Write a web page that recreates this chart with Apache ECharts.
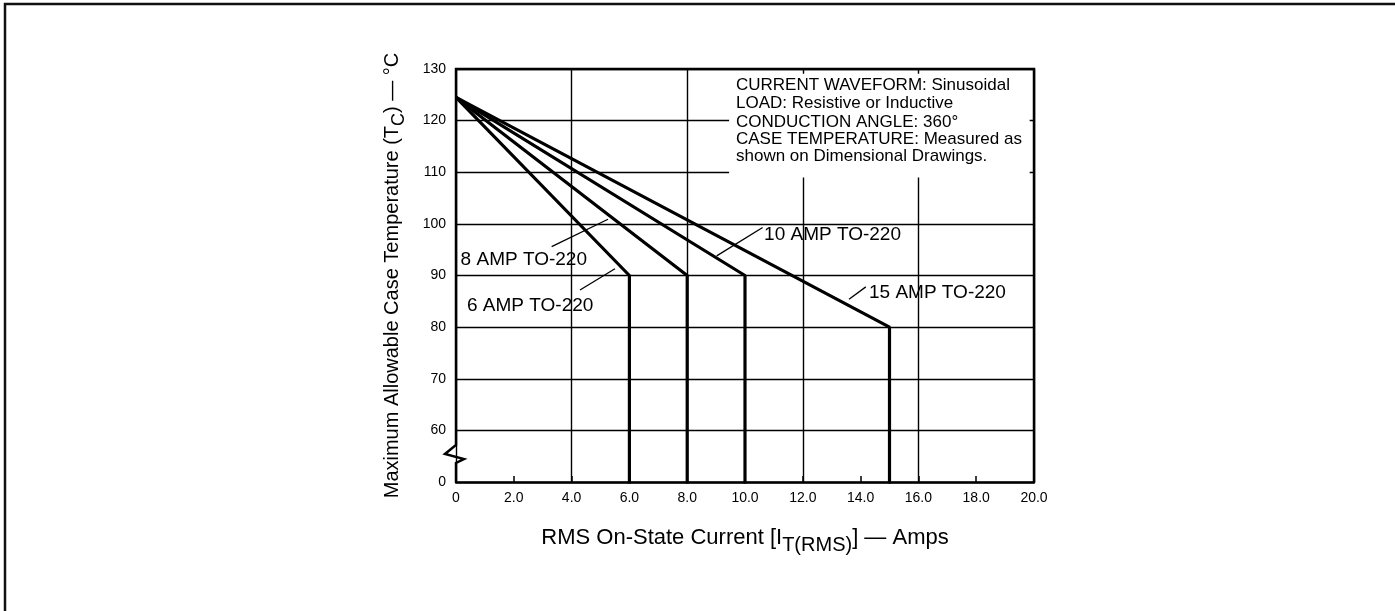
<!DOCTYPE html>
<html><head><meta charset="utf-8">
<script src="https://cdn.jsdelivr.net/npm/echarts@6/dist/echarts.min.js"></script>
<style>html,body{margin:0;padding:0;background:#fff}#c{width:1395px;height:611px}</style>
</head><body><div id="c"></div>
<script>
const FONT = '"Liberation Sans", Arial, Helvetica, sans-serif';

// ---- data (current in amps, case temperature in degC) ----
const seriesNames = ['6 AMP TO-220', '8 AMP TO-220', '10 AMP TO-220', '15 AMP TO-220'];
const amp6X  = [0, 6.0, 6.0];
const amp6Y  = [124.5, 90, 0];
const amp8X  = [0, 8.0, 8.0];
const amp8Y  = [124.5, 90, 0];
const amp10X = [0, 10.0, 10.0];
const amp10Y = [124.5, 90, 0];
const amp15X = [0, 15.0, 15.0];
const amp15Y = [124.5, 80, 0];

// axis: y axis is broken below 60 (bottom tick reads "0")
const xTickValues = [0, 2, 4, 6, 8, 10, 12, 14, 16, 18, 20];
const yTickValues = [50, 60, 70, 80, 90, 100, 110, 120, 130];
const yTickLabels = ['0', '60', '70', '80', '90', '100', '110', '120', '130'];

const noteLines = [
  'CURRENT WAVEFORM: Sinusoidal',
  'LOAD: Resistive or Inductive',
  'CONDUCTION ANGLE: 360°',
  'CASE TEMPERATURE: Measured as',
  'shown on Dimensional Drawings.'
];

// label placements in data units
const labelSpecs = [
  {text: seriesNames[1], at: [0.16, 93.0], leader: [[3.31, 95.6], [5.26, 100.9]]},
  {text: seriesNames[0], at: [0.38, 84.1], leader: [[4.29, 87.2], [5.50, 91.3]]},
  {text: seriesNames[2], at: [10.66, 97.8], leader: [[9.02, 93.8], [10.61, 99.3]]},
  {text: seriesNames[3], at: [14.29, 86.7], leader: [[13.60, 85.4], [14.18, 87.8]]}
];

const zip = (xs, ys) => xs.map((x, i) => [x, ys[i]]);
const seriesData = [zip(amp6X, amp6Y), zip(amp8X, amp8Y), zip(amp10X, amp10Y), zip(amp15X, amp15Y)];

const chart = echarts.init(document.getElementById('c'), null, {renderer: 'canvas'});

chart.setOption({
  animation: false,
  backgroundColor: '#fff',
  textStyle: {fontFamily: FONT, color: '#000'},
  grid: {left: 456, right: 361, top: 69, bottom: 129, containLabel: false},
  xAxis: [{
    type: 'value', min: 0, max: 20, interval: 2, position: 'bottom',
    axisLine: {show: true, lineStyle: {color: '#000', width: 2.5}},
    axisTick: {show: true, inside: true, length: 6, lineStyle: {color: '#000', width: 1.5}},
    splitLine: {show: false},
    axisLabel: {margin: 9, fontSize: 14, color: '#000', fontFamily: FONT,
      formatter: v => v === 0 ? '0' : v.toFixed(1)},
    name: '{n|RMS On-State Current [I}{s|T(RMS)}{n|] — Amps}',
    nameLocation: 'middle', nameGap: 38,
    nameTextStyle: {rich: {
      n: {fontSize: 22, fontFamily: FONT, color: '#000'},
      s: {fontSize: 20, fontFamily: FONT, color: '#000', padding: [15, 0, 0, 0]}
    }}
  }, {
    type: 'value', min: 0, max: 20, interval: 4, position: 'top',
    axisLine: {show: false}, axisTick: {show: false}, axisLabel: {show: false},
    splitLine: {show: true, lineStyle: {color: '#000', width: 1.4}}
  }],
  yAxis: {
    type: 'value', min: 50, max: 130, interval: 10,
    axisLine: {show: false}, axisTick: {show: false},
    splitLine: {show: true, lineStyle: {color: '#000', width: 1.4}},
    axisLabel: {margin: 10, fontSize: 14, color: '#000', fontFamily: FONT,
      formatter: v => yTickLabels[yTickValues.indexOf(v)]},
    name: '{n|Maximum Allowable Case Temperature (T}{s|C}{n|) — °C}',
    nameLocation: 'middle', nameRotate: 90, nameGap: 48,
    nameTextStyle: {rich: {
      n: {fontSize: 20, fontFamily: FONT, color: '#000'},
      s: {fontSize: 18, fontFamily: FONT, color: '#000', padding: [13, 0, 0, 0]}
    }}
  },
  series: seriesData.map((d, i) => ({
    name: seriesNames[i], type: 'line', data: d, xAxisIndex: 0,
    symbol: 'none', clip: true, z: 3,
    lineStyle: {color: '#000', width: 3.2}
  }))
});

function px(v) { return chart.convertToPixel({gridIndex: 0}, v); }

const [L, T] = px([0, 130]);
const [R, B] = px([20, 50]);
const g = [];
// outer page frame (left & top)
g.push({type: 'polyline', shape: {points: [[5, 611], [5, 4], [1395, 4]]},
  style: {stroke: '#111', lineWidth: 2.5, fill: null}, z: 10});
// plot frame with axis-break zigzag on left side
g.push({type: 'polyline', shape: {points: [
  [L, B], [L, B - 19], [L + 8, B - 23], [L - 11, B - 28], [L, B - 37], [L, T], [R, T], [R, B]
]}, style: {stroke: '#000', lineWidth: 2.5, fill: null}, z: 10});
// white note box
const [bx1, by1] = px([9.45, 129.1]);
const [bx2, by2] = px([19.85, 109.0]);
g.push({type: 'rect', shape: {x: bx1, y: by1, width: bx2 - bx1, height: by2 - by1},
  style: {fill: '#fff', stroke: null}, z: 5});
const noteY = [85.7, 103.3, 122.7, 139.3, 156.7];
noteLines.forEach((t, i) => {
  g.push({type: 'text', x: 736, y: noteY[i], z: 11,
    style: {text: t, fontSize: 17, fontFamily: FONT, fill: '#000', verticalAlign: 'middle', align: 'left'}});
});
// series labels with leader lines
labelSpecs.forEach(s => {
  const [tx, ty] = px(s.at);
  g.push({type: 'text', x: tx, y: ty, z: 11,
    style: {text: s.text, fontSize: 19, fontFamily: FONT, fill: '#000', verticalAlign: 'middle', align: 'left'}});
  const a = px(s.leader[0]), b = px(s.leader[1]);
  g.push({type: 'line', shape: {x1: a[0], y1: a[1], x2: b[0], y2: b[1]},
    style: {stroke: '#000', lineWidth: 1.3}, z: 11});
});
chart.setOption({graphic: g});
</script>
</body></html>
